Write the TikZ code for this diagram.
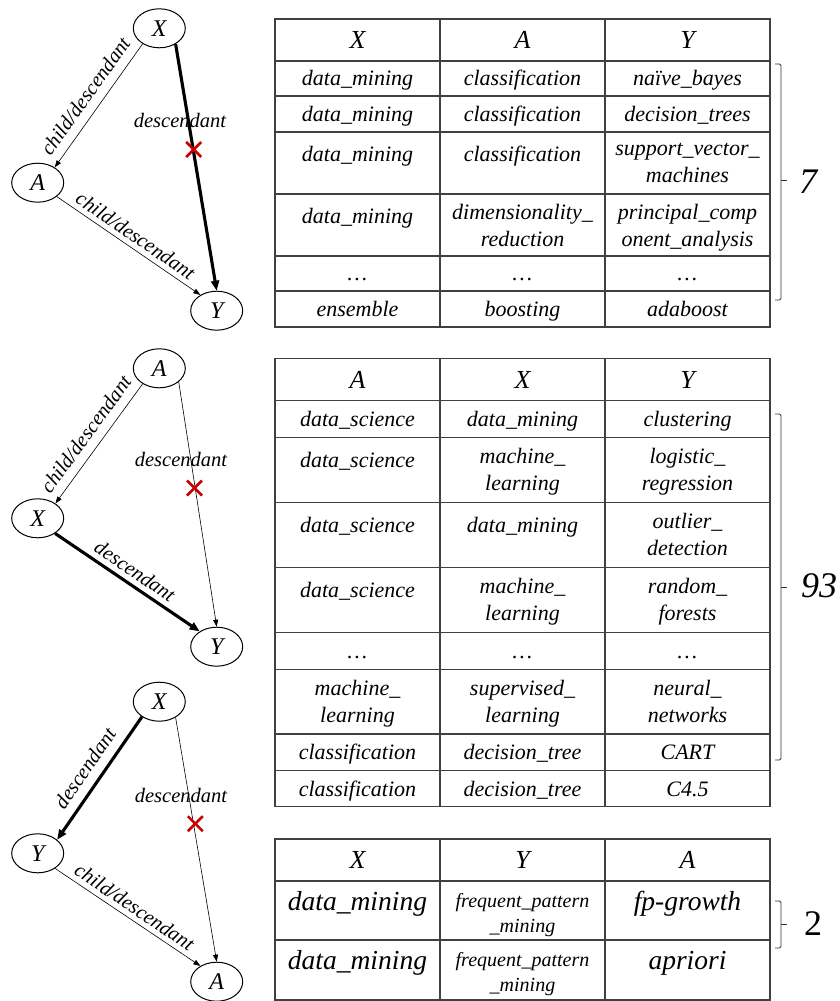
\documentclass[tikz,border=0pt]{standalone}
\usepackage{fontspec}
\setmainfont{Liberation Serif}
\usetikzlibrary{arrows.meta,shapes.geometric}
\definecolor{xred}{RGB}{200,0,0}
\begin{document}
\begin{tikzpicture}[x=1pt,y=-1pt,
  ell/.style={ellipse, draw, line width=1pt, minimum width=52pt, minimum height=39pt, inner sep=0pt, font=\fontsize{24}{28}\selectfont\itshape},
  thinarr/.style={line width=0.6pt, -{Triangle[length=7pt,width=5pt]}},
  thickarr/.style={line width=3.1pt, -{Triangle[length=10pt,width=8pt]}},
  elab/.style={font=\fontsize{20.5}{24}\selectfont\itshape, inner sep=2pt},
  labfar/.style={elab, sloped, above=7pt},
  labnear/.style={elab, sloped, above=3pt},
  redx/.style={draw=xred, line width=2.6pt},
  tbl/.style={draw=black!75, line width=1.2pt},
  cell/.style={font=\fontsize{22}{27}\selectfont\itshape, inner sep=0pt, anchor=mid, yshift=-5pt},
  mcell/.style={font=\fontsize{22}{27}\selectfont\itshape, inner sep=0pt, align=center, anchor=north, yshift=-6pt, execute at begin node=\strut},
  bcell/.style={font=\fontsize{27.5}{32}\selectfont\itshape, inner sep=0pt, anchor=mid, yshift=-5pt},
  scell/.style={font=\fontsize{20}{25}\selectfont\itshape, inner sep=0pt, align=center, anchor=north, yshift=-6pt, execute at begin node=\strut},
  hdr/.style={font=\fontsize{26}{30}\selectfont\itshape, inner sep=0pt},
  brk/.style={draw=black!80, line width=0.8pt, rounded corners=1.5pt},
  num/.style={font=\fontsize{36}{40}\selectfont\itshape, inner sep=0pt},
  numr/.style={font=\fontsize{36}{40}\selectfont, inner sep=0pt}
]
\useasboundingbox (0,0) rectangle (839,1001);

% ---------- Graph 1 ----------
\node[ell] (X1) at (159.3,28.3) {X};
\node[ell] (A1) at (37.7,182.7) {A};
\node[ell] (Y1) at (216.7,310.7) {Y};
\draw[thinarr] (X1.223) -- node[labfar] (l11) {child/descendant} (A1.42);
\draw[thinarr] (A1.-36) -- node[labnear] (l12) {child/descendant} (Y1.136);
\draw[thickarr] (X1.-44) -- (Y1.north);
\node[elab] (l13) at (180,120) {descendant};
\coordinate (c1) at (193.7,149.5);
\draw[redx] ([shift={(-7.5,-7.5)}]c1) -- ([shift={(7.5,7.5)}]c1);
\draw[redx] ([shift={(-7.5,7.5)}]c1) -- ([shift={(7.5,-7.5)}]c1);

% ---------- Graph 2 ----------
\node[ell] (A2) at (159.3,368.3) {A};
\node[ell] (X2) at (37.7,518.3) {X};
\node[ell] (Y2) at (216.7,646.7) {Y};
\draw[thinarr] (A2.223) -- node[labfar] (l21) {child/descendant} (X2.40);
\draw[thinarr] (A2.-35) -- (Y2.north);
\draw[thickarr] (X2.-41) -- node[labnear] (l22) {descendant} (Y2.138);
\node[elab] (l23) at (181,459) {descendant};
\coordinate (c2) at (194.5,488);
\draw[redx] ([shift={(-7.5,-7.5)}]c2) -- ([shift={(7.5,7.5)}]c2);
\draw[redx] ([shift={(-7.5,7.5)}]c2) -- ([shift={(7.5,-7.5)}]c2);

% ---------- Graph 3 ----------
\node[ell] (X3) at (159.3,701.7) {X};
\node[ell] (Y3) at (37.7,853.3) {Y};
\node[ell] (A3) at (216.7,981.7) {A};
\draw[thickarr] (X3.221) -- node[labfar] (l31) {descendant} (Y3.35);
\draw[thinarr] (Y3.-41) -- node[labnear] (l32) {child/descendant} (A3.136);
\draw[thinarr] (X3.-44) -- (A3.north);
\node[elab] (l33) at (181,795) {descendant};
\coordinate (c3) at (195.3,823.7);
\draw[redx] ([shift={(-7.5,-7.5)}]c3) -- ([shift={(7.5,7.5)}]c3);
\draw[redx] ([shift={(-7.5,7.5)}]c3) -- ([shift={(7.5,-7.5)}]c3);

% ---------- Table 1 ----------
\draw[tbl] (275,19) rectangle (770,327);
\foreach \y in {61,96,132,194,256,291} \draw[tbl] (275,\y) -- (770,\y);
\foreach \x in {440,605} \draw[tbl] (\x,19) -- (\x,327);
\node[hdr] (t1h1) at (357.5,40) {X};
\node[hdr] (t1h2) at (522.5,40) {A};
\node[hdr] (t1h3) at (687.5,40) {Y};
\node[cell] (t1a1) at (357.5,78.5) {data\_mining};
\node[cell] (t1a2) at (522.5,78.5) {classification};
\node[cell] (t1a3) at (687.5,78.5) {naïve\_bayes};
\node[cell] (t1b1) at (357.5,114) {data\_mining};
\node[cell] (t1b2) at (522.5,114) {classification};
\node[cell] (t1b3) at (687.5,114) {decision\_trees};
\node[mcell] (t1c1) at (357.5,136.5) {data\_mining};
\node[mcell] (t1c2) at (522.5,136.5) {classification};
\node[mcell] (t1c3) at (687.5,136.5) {support\_vector\_\\machines};
\node[mcell] (t1d1) at (357.5,198.5) {data\_mining};
\node[mcell] (t1d2) at (522.5,198.5) {dimensionality\_\\reduction};
\node[mcell] (t1d3) at (687.5,198.5) {principal\_comp\\onent\_analysis};
\node[cell] (t1e1) at (357.5,273.5) {…};
\node[cell] (t1e2) at (522.5,273.5) {…};
\node[cell] (t1e3) at (687.5,273.5) {…};
\node[cell] (t1f1) at (357.5,309) {ensemble};
\node[cell] (t1f2) at (522.5,309) {boosting};
\node[cell] (t1f3) at (687.5,309) {adaboost};
\draw[brk] (775,64) -- (781,64) -- (781,300) -- (775,300);
\draw[brk] (781,180) -- (787,180);
\node[num] (n1) at (808,182) {7};

% ---------- Table 2 ----------
\draw[tbl] (275,358.5) rectangle (770,806.7);
\foreach \y in {400.7,437.5,502.5,567.5,632.5,669.5,734,770.7} \draw[tbl] (275,\y) -- (770,\y);
\foreach \x in {440,605} \draw[tbl] (\x,358.5) -- (\x,806.7);
\node[hdr] (t2h1) at (357.5,379.6) {A};
\node[hdr] (t2h2) at (522.5,379.6) {X};
\node[hdr] (t2h3) at (687.5,379.6) {Y};
\node[cell] (t2a1) at (357.5,419) {data\_science};
\node[cell] (t2a2) at (522.5,419) {data\_mining};
\node[cell] (t2a3) at (687.5,419) {clustering};
\node[mcell] (t2b1) at (357.5,442) {data\_science};
\node[mcell] (t2b2) at (522.5,442) {machine\_\\learning};
\node[mcell] (t2b3) at (687.5,442) {logistic\_\\regression};
\node[mcell] (t2c1) at (357.5,507) {data\_science};
\node[mcell] (t2c2) at (522.5,507) {data\_mining};
\node[mcell] (t2c3) at (687.5,507) {outlier\_\\detection};
\node[mcell] (t2d1) at (357.5,572) {data\_science};
\node[mcell] (t2d2) at (522.5,572) {machine\_\\learning};
\node[mcell] (t2d3) at (687.5,572) {random\_\\forests};
\node[cell] (t2e1) at (357.5,651) {…};
\node[cell] (t2e2) at (522.5,651) {…};
\node[cell] (t2e3) at (687.5,651) {…};
\node[mcell] (t2f1) at (357.5,674) {machine\_\\learning};
\node[mcell] (t2f2) at (522.5,674) {supervised\_\\learning};
\node[mcell] (t2f3) at (687.5,674) {neural\_\\networks};
\node[cell] (t2g1) at (357.5,752.3) {classification};
\node[cell] (t2g2) at (522.5,752.3) {decision\_tree};
\node[cell] (t2g3) at (687.5,752.3) {CART};
\node[cell] (t2h1c) at (357.5,788.7) {classification};
\node[cell] (t2h2c) at (522.5,788.7) {decision\_tree};
\node[cell] (t2h3c) at (687.5,788.7) {C4.5};
\draw[brk] (775,414) -- (781,414) -- (781,760) -- (775,760);
\draw[brk] (781,587) -- (787,587);
\node[num] (n2) at (819,586) {93};

% ---------- Table 3 ----------
\draw[tbl] (275,839) rectangle (770,1000);
\foreach \y in {881,940} \draw[tbl] (275,\y) -- (770,\y);
\foreach \x in {440,605} \draw[tbl] (\x,839) -- (\x,1000);
\node[hdr] (t3h1) at (357.5,860) {X};
\node[hdr] (t3h2) at (522.5,860) {Y};
\node[hdr] (t3h3) at (687.5,860) {A};
\node[bcell] (t3a1) at (357.5,903) {data\_mining};
\node[scell] (t3a2) at (522.5,887) {frequent\_pattern\\\_mining};
\node[bcell] (t3a3) at (687.5,903) {fp-growth};
\node[bcell] (t3b1) at (357.5,962) {data\_mining};
\node[scell] (t3b2) at (522.5,946) {frequent\_pattern\\\_mining};
\node[bcell] (t3b3) at (687.5,962) {apriori};
\draw[brk] (775,901) -- (781,901) -- (781,948) -- (775,948);
\draw[brk] (781,924.5) -- (787,924.5);
\node[numr] (n3) at (813,924) {2};
\end{tikzpicture}
\end{document}
